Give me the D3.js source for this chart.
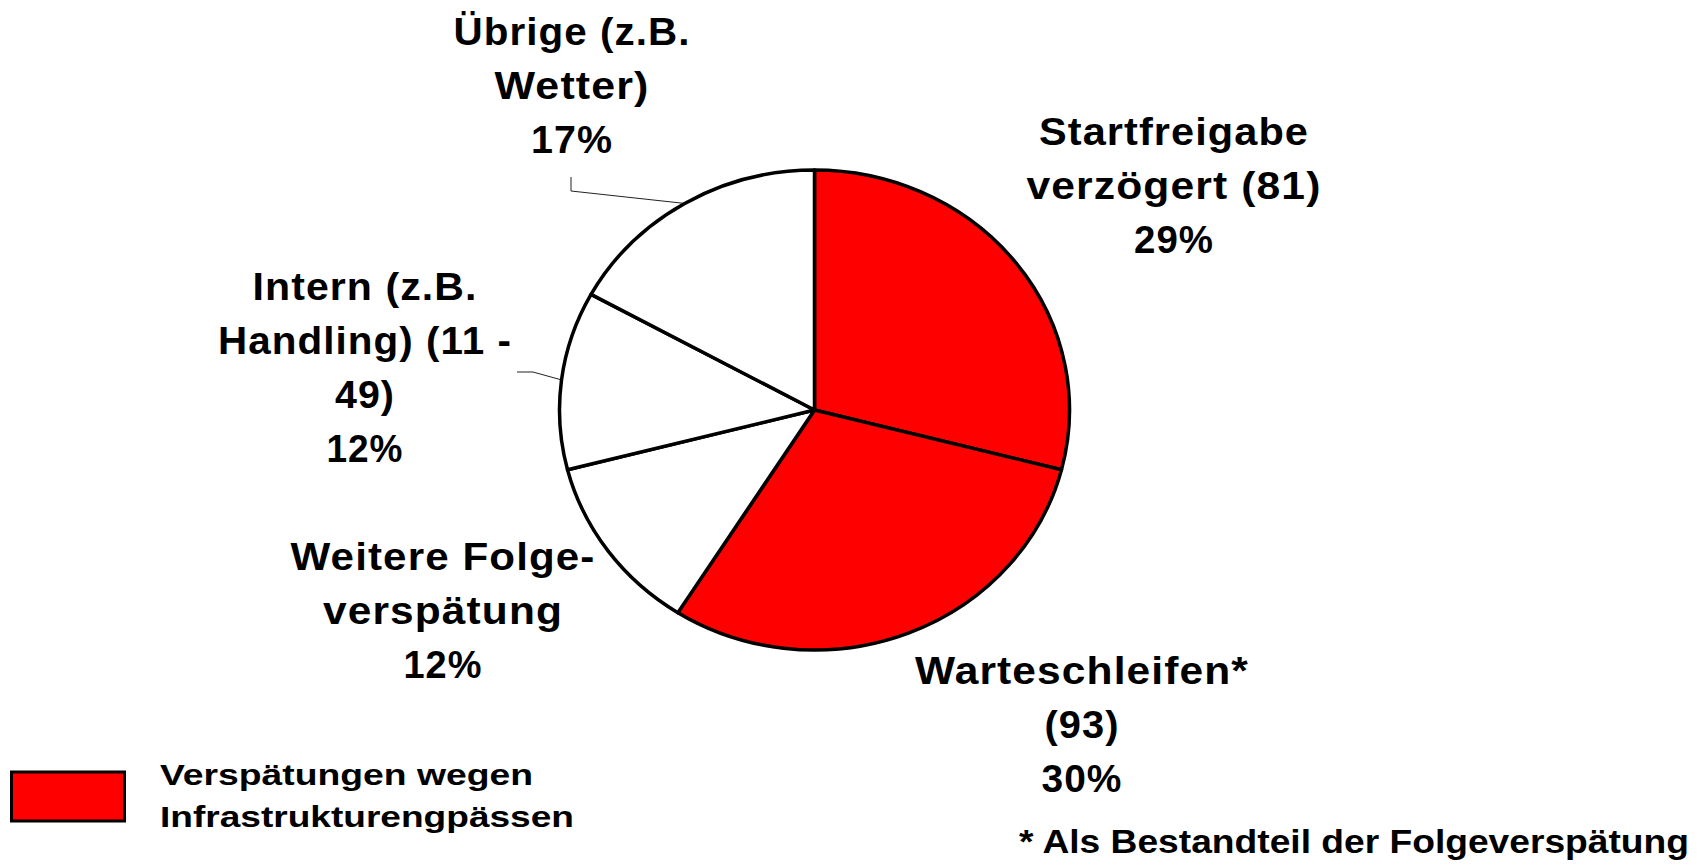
<!DOCTYPE html>
<html>
<head>
<meta charset="utf-8">
<script src="https://cdn.jsdelivr.net/npm/d3@7"></script>
<style>
  html, body { margin: 0; padding: 0; background: #fff; }
  svg { display: block; }
  text { font-family: "Liberation Sans", Arial, sans-serif; font-weight: bold; fill: #000; }
</style>
</head>
<body>
<script>
// slices, clockwise from 12 o'clock
var categories = ["Startfreigabe verzögert (81)", "Warteschleifen* (93)", "Weitere Folgeverspätung", "Intern (z.B. Handling) (11 - 49)", "Übrige (z.B. Wetter)"];
var shares = [29, 30, 12, 12, 17];
var infrastructure = [true, true, false, false, false];
var labelLines = [
    ["Startfreigabe", "verzögert (81)"],
    ["Warteschleifen*", "(93)"],
    ["Weitere Folge-", "verspätung"],
    ["Intern (z.B.", "Handling) (11 -", "49)"],
    ["Übrige (z.B.", "Wetter)"]
];
var legendLines = ["Verspätungen wegen", "Infrastrukturengpässen"];
var footnote = "* Als Bestandteil der Folgeverspätung";

// label placement (centre x, first baseline, line widths)
var labelLayout = [
    { x: 1174, y: 145, w: [270, 295, 80] },
    { x: 1082, y: 684, w: [334, 75, 81] },
    { x: 443, y: 570, w: [305, 240, 79] },
    { x: 365, y: 300, w: [225, 294, 60, 77] },
    { x: 572, y: 45, w: [237, 155, 82] }
];
var leaderStart = { 3: [[517, 372], [533, 372]], 4: [[571, 177], [571, 191]] };

var width = 1706, height = 865;
var cx = 814.5, cy = 410, radius = 240;
var stretchX = 255 / 240;   // the pie in the picture is slightly wider than tall
var lineHeight = 54;

var svg = d3.select("body").append("svg").attr("width", width).attr("height", height);

var data = categories.map(function (c, i) {
    return { name: c, value: shares[i], infra: infrastructure[i], lines: labelLines[i], idx: i };
});

var pie = d3.pie().sort(null).value(function (d) { return d.value; });
var arc = d3.arc().innerRadius(0).outerRadius(radius);
var edge = d3.arc().innerRadius(radius).outerRadius(radius);
var arcs = pie(data);

// leader lines
arcs.forEach(function (a) {
    var start = leaderStart[a.data.idx];
    if (!start) return;
    var c = edge.centroid(a);
    var end = [cx + c[0] * stretchX, cy + c[1]];
    svg.append("path")
        .attr("d", d3.line()(start.concat([end])))
        .attr("fill", "none")
        .attr("stroke", "#222")
        .attr("stroke-width", 1);
});

var g = svg.append("g")
    .attr("transform", "translate(" + cx + "," + cy + ") scale(" + stretchX + ",1)");

g.selectAll("path.slice").data(arcs).enter().append("path")
    .attr("class", "slice")
    .attr("d", arc)
    .attr("fill", function (d) { return d.data.infra ? "#ff0000" : "#ffffff"; })
    .attr("stroke", "#000")
    .attr("stroke-width", 3.5)
    .attr("stroke-linejoin", "round")
    .attr("vector-effect", "non-scaling-stroke");

// slice labels
arcs.forEach(function (a) {
    var lay = labelLayout[a.data.idx];
    var lines = a.data.lines.concat([a.data.value + "%"]);
    lines.forEach(function (t, j) {
        svg.append("text")
            .attr("x", lay.x)
            .attr("y", lay.y + j * lineHeight)
            .attr("text-anchor", "middle")
            .attr("font-size", 38)
            .attr("letter-spacing", 1)
            .attr("textLength", lay.w[j])
            .attr("lengthAdjust", "spacingAndGlyphs")
            .text(t);
    });
});

// legend
svg.append("rect")
    .attr("x", 11.5).attr("y", 772).attr("width", 113).attr("height", 49)
    .attr("fill", "#ff0000").attr("stroke", "#000").attr("stroke-width", 3);
var legendWidths = [373, 414];
legendLines.forEach(function (t, j) {
    svg.append("text")
        .attr("x", 160)
        .attr("y", 785 + j * 42)
        .attr("font-size", 30)
        .attr("textLength", legendWidths[j])
        .attr("lengthAdjust", "spacingAndGlyphs")
        .text(t);
});

svg.append("text")
    .attr("x", 1019)
    .attr("y", 853)
    .attr("font-size", 33)
    .attr("textLength", 670)
    .attr("lengthAdjust", "spacingAndGlyphs")
    .text(footnote);
</script>
</body>
</html>
